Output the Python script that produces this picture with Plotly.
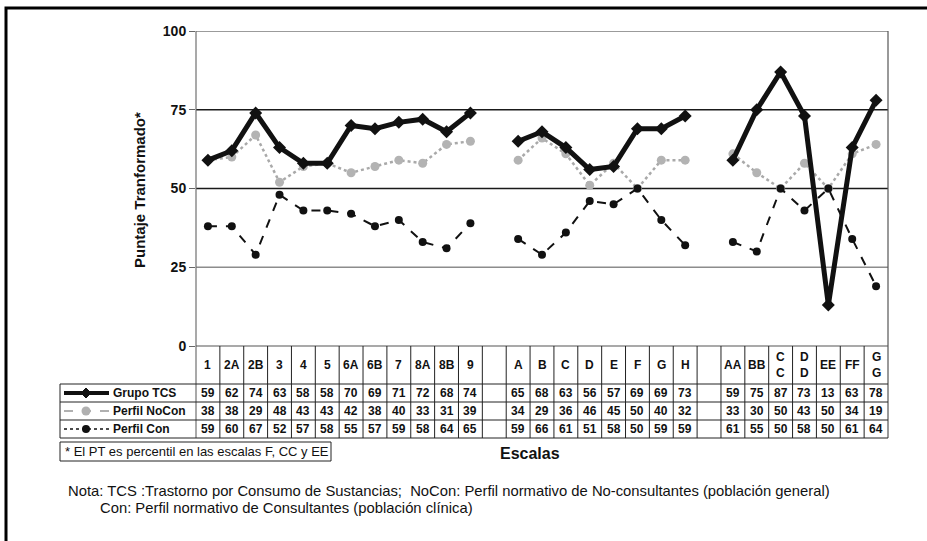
import plotly.graph_objects as go

# ---------------- data ----------------
categories = ["1", "2A", "2B", "3", "4", "5", "6A", "6B", "7", "8A", "8B", "9", "",
              "A", "B", "C", "D", "E", "F", "G", "H", "",
              "AA", "BB", "C<br>C", "D<br>D", "EE", "FF", "G<br>G"]
grupo_tcs = [59, 62, 74, 63, 58, 58, 70, 69, 71, 72, 68, 74, None,
             65, 68, 63, 56, 57, 69, 69, 73, None,
             59, 75, 87, 73, 13, 63, 78]
perfil_nocon = [38, 38, 29, 48, 43, 43, 42, 38, 40, 33, 31, 39, None,
                34, 29, 36, 46, 45, 50, 40, 32, None,
                33, 30, 50, 43, 50, 34, 19]
perfil_con = [59, 60, 67, 52, 57, 58, 55, 57, 59, 58, 64, 65, None,
              59, 66, 61, 51, 58, 50, 59, 59, None,
              61, 55, 50, 58, 50, 61, 64]
row_labels = ["Grupo TCS", "Perfil NoCon", "Perfil Con"]
y_ticks = [0, 25, 50, 75, 100]

# ---------------- geometry helpers ----------------
W, H = 927, 541
L, R, T, B = 196, 888, 31, 346
FONT = "Liberation Sans, Arial, sans-serif"


def px(x):
    return (x - L) / (R - L)


def py(y):
    return (B - y) / (B - T)


n = len(categories)
xs = list(range(n))

fig = go.Figure()

# gray dotted series (plotted with the "Perfil Con" row values)
fig.add_trace(go.Scatter(
    x=xs, y=perfil_con, mode="lines+markers", connectgaps=False,
    line=dict(color="#a9a9a9", width=2.5, dash="dot"),
    marker=dict(symbol="circle", size=9, color="#b3b3b3"),
    showlegend=False, hoverinfo="skip"))
# black dashed series (plotted with the "Perfil NoCon" row values)
fig.add_trace(go.Scatter(
    x=xs, y=perfil_nocon, mode="lines+markers", connectgaps=False,
    line=dict(color="#111111", width=2, dash="dash"),
    marker=dict(symbol="circle", size=8, color="#111111"),
    showlegend=False, hoverinfo="skip"))
# Grupo TCS
fig.add_trace(go.Scatter(
    x=xs, y=grupo_tcs, mode="lines+markers", connectgaps=False,
    line=dict(color="#111111", width=5),
    marker=dict(symbol="diamond", size=10, color="#111111"),
    showlegend=False, hoverinfo="skip"))

shapes = []
annotations = []


def hline(y, x0, x1, color="#111111", width=1, dash="solid"):
    shapes.append(dict(type="line", xref="paper", yref="paper",
                       x0=px(x0), x1=px(x1), y0=py(y), y1=py(y),
                       line=dict(color=color, width=width, dash=dash)))


# gridlines
grid_colors = {25: "#8c8c8c", 50: "#1a1a1a", 75: "#1a1a1a", 100: "#7a7a7a"}
for v in y_ticks[1:]:
    shapes.append(dict(type="line", xref="paper", yref="y", x0=0, x1=1, y0=v, y1=v,
                       line=dict(color=grid_colors[v], width=1.5), layer="below"))

# plot borders (left/right), extended down through the table
for xb, col in [(L, "#707070"), (R, "#555555")]:
    shapes.append(dict(type="line", xref="paper", yref="paper",
                       x0=px(xb), x1=px(xb), y0=py(T), y1=py(438),
                       line=dict(color=col, width=1.2)))

# table horizontal lines
hline(B, L, R, color="#555555", width=1.2)
for yy in [384, 402, 420, 438]:
    hline(yy, 60, R, color="#222222", width=1)
# legend box left edge
shapes.append(dict(type="line", xref="paper", yref="paper",
                   x0=px(60), x1=px(60), y0=py(384), y1=py(438),
                   line=dict(color="#222222", width=1)))
# column boundaries
for i in range(1, n):
    shapes.append(dict(type="line", xref="x", yref="paper",
                       x0=i - 0.5, x1=i - 0.5, y0=py(B), y1=py(438),
                       line=dict(color="#222222", width=1)))

# header labels and values
row_y = [393, 411, 429]
series_rows = [grupo_tcs, perfil_nocon, perfil_con]
for i, c in enumerate(categories):
    if c:
        annotations.append(dict(x=i, y=py(365), xref="x", yref="paper", text=c,
                                showarrow=False, xanchor="center", yanchor="middle",
                                font=dict(family=FONT, size=12, color="#111111", weight="bold")))
    for r, vals in enumerate(series_rows):
        if vals[i] is not None:
            annotations.append(dict(x=i, y=py(row_y[r]), xref="x", yref="paper",
                                    text=str(vals[i]), showarrow=False,
                                    xanchor="center", yanchor="middle",
                                    font=dict(family=FONT, size=12, color="#111111", weight="bold")))

# legend keys inside the table
for r, lab in enumerate(row_labels):
    annotations.append(dict(x=px(111), y=py(row_y[r]), xref="paper", yref="paper", text=lab,
                            showarrow=False, xanchor="left", yanchor="middle",
                            font=dict(family=FONT, size=12, color="#111111", weight="bold")))

# Grupo TCS key
hline(row_y[0], 64, 109, color="#111111", width=4)
cx, cy, d = 86, row_y[0], 5
shapes.append(dict(type="path", xref="paper", yref="paper",
                   path=f"M {px(cx)},{py(cy - d)} L {px(cx + d)},{py(cy)} L {px(cx)},{py(cy + d)} L {px(cx - d)},{py(cy)} Z",
                   fillcolor="#111111", line=dict(color="#111111", width=1)))
# Perfil NoCon key (gray dashed, gray circle)
hline(row_y[1], 64, 109, color="#b0b0b0", width=2, dash="dash")
shapes.append(dict(type="circle", xref="paper", yref="paper",
                   x0=px(cx - 4.5), x1=px(cx + 4.5), y0=py(row_y[1] + 4.5), y1=py(row_y[1] - 4.5),
                   fillcolor="#b0b0b0", line=dict(color="#b0b0b0", width=0)))
# Perfil Con key (black dotted, black circle)
hline(row_y[2], 64, 109, color="#111111", width=1.5, dash="dot")
shapes.append(dict(type="circle", xref="paper", yref="paper",
                   x0=px(cx - 4), x1=px(cx + 4), y0=py(row_y[2] + 4), y1=py(row_y[2] - 4),
                   fillcolor="#111111", line=dict(color="#111111", width=0)))

# footnote box
shapes.append(dict(type="rect", xref="paper", yref="paper",
                   x0=px(60), x1=px(331), y0=py(442), y1=py(461),
                   line=dict(color="#222222", width=1), fillcolor="rgba(0,0,0,0)"))
annotations.append(dict(x=px(63), y=py(451.5), xref="paper", yref="paper",
                        text="* El PT es percentil en las escalas F, CC y EE",
                        showarrow=False, xanchor="left", yanchor="middle",
                        font=dict(family=FONT, size=13, color="#111111")))
annotations.append(dict(x=px(530), y=py(453), xref="paper", yref="paper",
                        text="Escalas", showarrow=False, xanchor="center", yanchor="middle",
                        font=dict(family=FONT, size=16, color="#111111", weight="bold")))
annotations.append(dict(x=px(66), y=py(491), xref="paper", yref="paper",
                        text="Nota: TCS :Trastorno por Consumo de Sustancias;\u00a0 NoCon: Perfil normativo de No-consultantes (población general)",
                        showarrow=False, xanchor="left", yanchor="middle",
                        font=dict(family=FONT, size=14.8, color="#111111")))
annotations.append(dict(x=px(98), y=py(508), xref="paper", yref="paper",
                        text="Con: Perfil normativo de Consultantes (población clínica)",
                        showarrow=False, xanchor="left", yanchor="middle",
                        font=dict(family=FONT, size=14.8, color="#111111")))

# y-axis title
annotations.append(dict(x=px(139), y=py(190), xref="paper", yref="paper",
                        text="Puntaje Tranformado*", textangle=-90,
                        showarrow=False, xanchor="center", yanchor="middle",
                        font=dict(family=FONT, size=15, color="#111111", weight="bold")))

# outer frame
shapes.append(dict(type="rect", xref="paper", yref="paper",
                   x0=px(6), x1=px(940), y0=py(8), y1=py(560),
                   line=dict(color="#000000", width=3), fillcolor="rgba(0,0,0,0)"))

fig.update_layout(
    width=W, height=H,
    margin=dict(l=L, r=W - R, t=T, b=H - B),
    paper_bgcolor="white", plot_bgcolor="white",
    xaxis=dict(range=[-0.5, n - 0.5], visible=False, fixedrange=True),
    yaxis=dict(range=[0, 100], tickvals=y_ticks, ticks="outside", ticklen=6,
               tickcolor="#666666", showgrid=False, zeroline=False,
               showline=False, tickfont=dict(family=FONT, size=14, color="#111111", weight="bold"),
               fixedrange=True),
    shapes=shapes, annotations=annotations,
)

fig.write_html("out.html", config={"displayModeBar": False},
               post_script="document.body.style.margin='0';")
